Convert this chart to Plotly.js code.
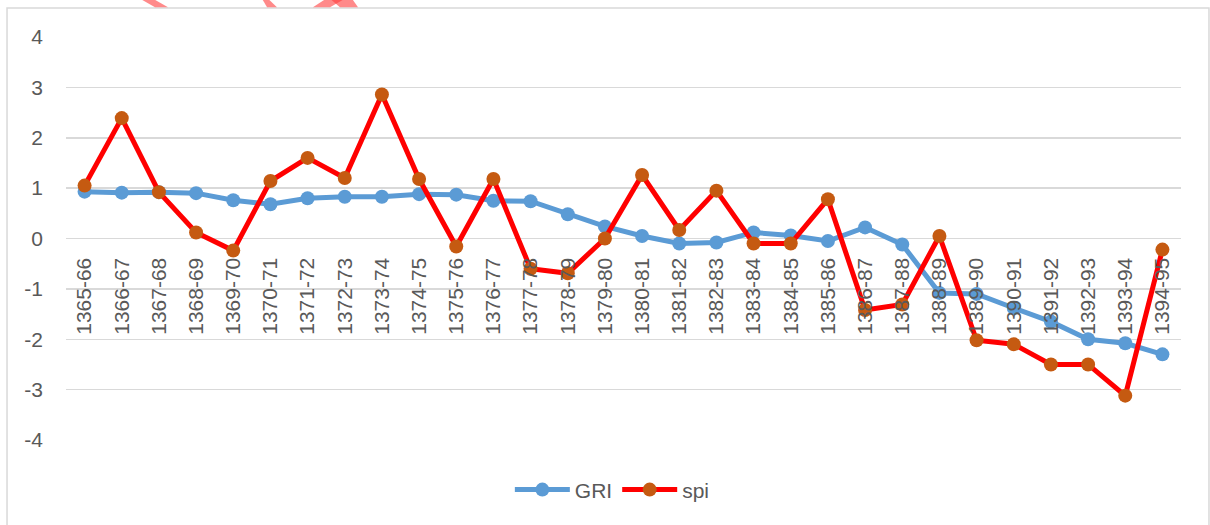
<!DOCTYPE html>
<html>
<head>
<meta charset="utf-8">
<script src="https://cdn.plot.ly/plotly-3.0.1.min.js"></script>
<style>
html,body{margin:0;padding:0;background:#fff;}
#chart{width:1210px;height:525px;}
</style>
</head>
<body>
<div id="chart"></div>
<script>
var categories = ["1365-66","1366-67","1367-68","1368-69","1369-70","1370-71","1371-72","1372-73","1373-74","1374-75",
"1375-76","1376-77","1377-78","1378-79","1379-80","1380-81","1381-82","1382-83","1383-84","1384-85",
"1385-86","1386-87","1387-88","1388-89","1389-90","1390-91","1391-92","1392-93","1393-94","1394-95"];

var gri = [0.93,0.91,0.92,0.90,0.76,0.68,0.80,0.83,0.83,0.88,
0.87,0.75,0.74,0.48,0.24,0.05,-0.10,-0.08,0.12,0.06,
-0.05,0.22,-0.12,-1.08,-1.10,-1.38,-1.65,-2.00,-2.08,-2.30];

var spi = [1.05,2.39,0.92,0.12,-0.24,1.14,1.60,1.20,2.86,1.18,
-0.16,1.18,-0.60,-0.69,0.00,1.26,0.17,0.95,-0.10,-0.10,
0.78,-1.42,-1.31,0.05,-2.02,-2.10,-2.50,-2.50,-3.12,-0.22];

var yTicks = [-4,-3,-2,-1,0,1,2,3,4];

var font = {family:"Liberation Sans, Arial, sans-serif", size:21, color:"#595959"};

var traces = [
  {x:categories, y:gri, name:"GRI", type:"scatter", mode:"lines+markers",
   line:{color:"#5B9BD5", width:5}, marker:{color:"#5B9BD5", size:14}},
  {x:categories, y:spi, name:"spi", type:"scatter", mode:"lines+markers",
   line:{color:"#FF0000", width:5}, marker:{color:"#C55A11", size:14}}
];

var pink = "rgba(255,60,60,0.6)";
function poly(pts){ return "M" + pts.map(function(p){return p[0]+","+p[1];}).join(" L") + " Z"; }

var layout = {
  width:1210, height:525,
  margin:{l:66, r:29, t:37, b:85},
  paper_bgcolor:"#fff", plot_bgcolor:"#fff",
  font:font,
  showlegend:true,
  legend:{orientation:"h", x:0.49, xanchor:"center", y:-0.124, yanchor:"middle",
          font:font, itemwidth:55, traceorder:"normal"},
  xaxis:{type:"category", range:[-0.5, categories.length-0.5], anchor:"free", position:0.5,
         showgrid:false, zeroline:false, showline:false, tickangle:-90,
         ticks:"", ticklabelstandoff:14, tickfont:font, fixedrange:true},
  yaxis:{range:[-4,4], tickvals:yTicks, ticktext:yTicks.map(String), showgrid:true,
         gridcolor:"#d9d9d9", gridwidth:1.5, zeroline:false, showline:false,
         ticks:"", ticklabelstandoff:22, tickfont:font, fixedrange:true},
  shapes:[
    {type:"rect", xref:"paper", yref:"paper", x0:-0.0529, x1:1.0251, y0:-0.3, y1:1.072,
     line:{color:"#d9d9d9", width:1.5}, fillcolor:"rgba(0,0,0,0)", layer:"below"},
    {type:"path", xref:"paper", yref:"paper", path:poly([[0.0664,1.095],[0.0780,1.095],[0.0915,1.074],[0.0798,1.074]]),
     fillcolor:pink, line:{width:0}},
    {type:"path", xref:"paper", yref:"paper", path:poly([[0.1758,1.095],[0.1812,1.095],[0.1892,1.074],[0.1803,1.074]]),
     fillcolor:pink, line:{width:0}},
    {type:"path", xref:"paper", yref:"paper", path:poly([[0.2215,1.074],[0.2332,1.095],[0.2502,1.095],[0.2368,1.074]]),
     fillcolor:pink, line:{width:0}},
    {type:"path", xref:"paper", yref:"paper", path:poly([[0.2368,1.095],[0.2565,1.095],[0.2619,1.074],[0.2457,1.074]]),
     fillcolor:pink, line:{width:0}}
  ]
};

Plotly.newPlot("chart", traces, layout, {displayModeBar:false, staticPlot:true});
</script>
</body>
</html>
